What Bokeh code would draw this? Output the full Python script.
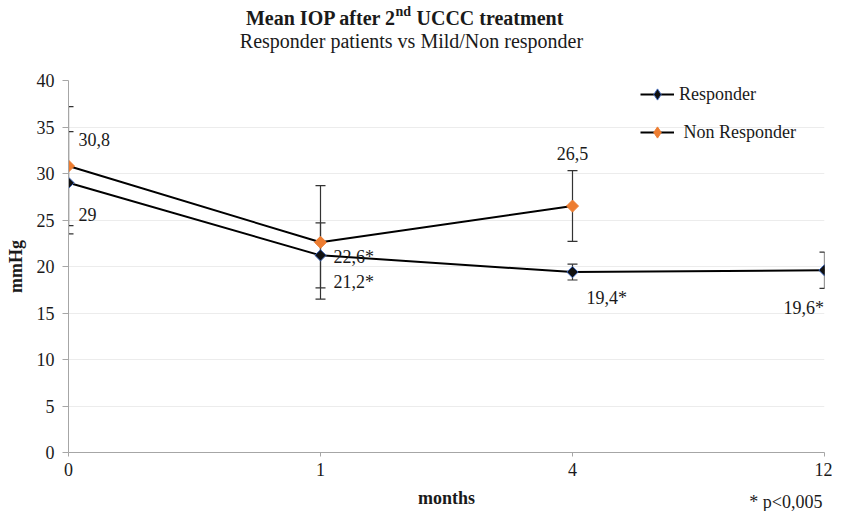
import math
from bokeh.plotting import figure
from bokeh.layouts import column
from bokeh.models import Range1d, FixedTicker, Label, Legend, LegendItem
from bokeh.embed import file_html
from bokeh.resources import INLINE

# ---- data ----
months = ["0", "1", "4", "12"]
responder = [29.0, 21.2, 19.4, 19.6]
responder_err = [5.5, 3.5, 0.85, 1.95]
responder_labels = ["29", "21,2*", "19,4*", "19,6*"]
non_responder = [30.8, 22.6, 26.5]
non_responder_err = [6.4, 6.1, 3.8]
non_responder_labels = ["30,8", "22,6*", "26,5"]
y_ticks = [0, 5, 10, 15, 20, 25, 30, 35, 40]

FONT = "Liberation Serif"
TXT = "#1a1a1a"
W = 832
LEFT, RIGHT = 68, 8   # borders shared by all stacked figures (frames are aligned)

x_r = list(range(len(responder)))
x_nr = list(range(len(non_responder)))


def text_fig(h):
    f = figure(width=W, height=h, x_range=Range1d(0, W - LEFT - RIGHT), y_range=Range1d(0, h),
               x_axis_type=None, y_axis_type=None, output_backend="svg",
               toolbar_location=None, min_border_left=LEFT, min_border_right=RIGHT,
               min_border_top=0, min_border_bottom=0)
    f.outline_line_color = None
    f.grid.visible = False
    return f


def scr(f, x, y, t, size="18px", style="normal", align="left"):
    # x given in page pixels; converted to the frame's screen units
    f.add_layout(Label(x=x - LEFT, y=y, x_units="screen", y_units="screen", text=t,
                       text_align=align, text_baseline="middle", text_font=FONT,
                       text_font_size=size, text_font_style=style, text_color=TXT))


# ---- title block ----
top = text_fig(72)
scr(top, 396, 55, "Mean IOP after 2", "20px", "bold", "right")
scr(top, 395, 61, "nd", "14px", "bold", "left")
scr(top, 416, 55, "UCCC treatment", "20px", "bold", "left")
scr(top, 411, 32, "Responder patients vs Mild/Non responder", "20px", "normal", "center")

# ---- main chart ----
p = figure(width=W, height=414, x_range=Range1d(0, len(months) - 1), y_range=Range1d(0, 40),
           output_backend="svg", toolbar_location=None,
           min_border_left=LEFT, min_border_right=RIGHT, min_border_top=8, min_border_bottom=34)
p.outline_line_color = None
p.xgrid.visible = False
p.ygrid.grid_line_color = "#ececec"
p.ygrid.ticker = FixedTicker(ticks=y_ticks)

p.yaxis.ticker = FixedTicker(ticks=y_ticks)
p.xaxis.ticker = FixedTicker(ticks=x_r)
p.xaxis.major_label_overrides = {i: m for i, m in enumerate(months)}
for ax in (p.xaxis, p.yaxis):
    ax.axis_line_color = "#a6a6a6"
    ax.major_tick_line_color = "#a6a6a6"
    ax.minor_tick_line_color = None
    ax.major_tick_in = 0
    ax.major_label_text_font = FONT
    ax.major_label_text_font_size = "18px"
    ax.major_label_text_color = TXT
    ax.axis_label_text_font = FONT
    ax.axis_label_text_font_size = "18px"
    ax.axis_label_text_font_style = "bold"
    ax.axis_label_text_color = TXT
p.yaxis.major_tick_out = 6
p.xaxis.major_tick_out = 4
p.yaxis.major_label_standoff = 8
p.xaxis.major_label_standoff = 6
p.yaxis.axis_label = "mmHg"
p.yaxis.axis_label_standoff = 8

# error bars
ERR = "#333333"
for xs, ys, es in ((x_r, responder, responder_err), (x_nr, non_responder, non_responder_err)):
    lo = [y - e for y, e in zip(ys, es)]
    hi = [y + e for y, e in zip(ys, es)]
    p.segment(x0=xs, y0=lo, x1=xs, y1=hi, line_color=ERR, line_width=1.2)
    p.scatter(x=xs + xs, y=lo + hi, marker="dash", size=10, line_color=ERR, line_width=1.2)

# lines and markers
R_FILL, R_EDGE = "#111111", "#3b64b8"
NR_COL = "#ED7D31"
r_line = p.line(x_r, responder, line_color="black", line_width=2)
nr_line = p.line(x_nr, non_responder, line_color="black", line_width=2)
# diamonds used for the legend (hidden under the plotted markers)
r_leg = p.scatter(x_r, responder, marker="diamond", size=9, fill_color=R_FILL,
                  line_color=R_EDGE, line_width=1)
nr_leg = p.scatter(x_nr, non_responder, marker="diamond", size=9, fill_color=NR_COL,
                   line_color=NR_COL, line_width=1)
p.scatter(x_r, responder, marker="square", angle=math.pi / 4, size=8,
          fill_color=R_FILL, line_color=R_EDGE, line_width=1)
p.scatter(x_nr, non_responder, marker="square", angle=math.pi / 4, size=8.5,
          fill_color=NR_COL, line_color=NR_COL, line_width=1)

legend = Legend(items=[LegendItem(label="Responder", renderers=[r_line, r_leg]),
                       LegendItem(label="\u00a0Non Responder", renderers=[nr_line, nr_leg])],
                location=(572, 306), border_line_color=None, background_fill_alpha=0,
                padding=0, margin=0, spacing=10, glyph_width=34, glyph_height=28,
                label_height=28, label_standoff=5,
                label_text_font=FONT, label_text_font_size="18px", label_text_color=TXT)
p.add_layout(legend)

# data labels
r_off = [(10, -32, "left"), (13, -27, "left"), (14, -26, "left"), (-41, -38, "left")]
nr_off = [(10, 27, "left"), (13, -15, "left"), (0, 53, "center")]
for xs, ys, labs, offs in ((x_r, responder, responder_labels, r_off),
                           (x_nr, non_responder, non_responder_labels, nr_off)):
    for x, y, t, (dx, dy, al) in zip(xs, ys, labs, offs):
        p.add_layout(Label(x=x, y=y, text=t, x_offset=dx, y_offset=dy, text_align=al,
                           text_baseline="middle", text_font=FONT, text_font_size="18px",
                           text_color=TXT))

# ---- bottom block: axis title and footnote ----
bot = text_fig(25)
scr(bot, 446, 14, "months", "18px", "bold", "center")
scr(bot, 822, 10, "* p<0,005", "18px", "normal", "right")

layout = column(top, p, bot, spacing=0)
open("out.html", "w").write(file_html(layout, INLINE))
